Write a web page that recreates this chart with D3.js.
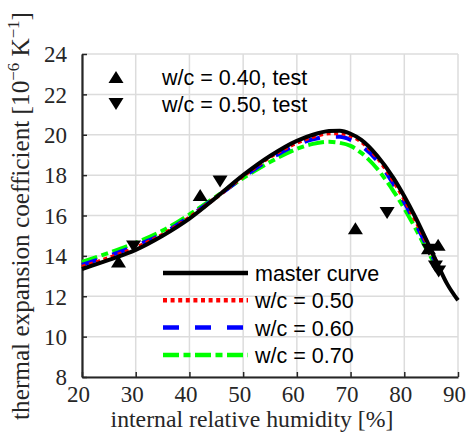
<!DOCTYPE html>
<html><head><meta charset="utf-8">
<script src="https://cdn.jsdelivr.net/npm/d3@7"></script>
<style>body{margin:0;background:#fff}svg{display:block}</style>
</head><body>
<svg id="c" width="466" height="440"></svg>
<script>
// ---- data ----
const xTicks = [20, 30, 40, 50, 60, 70, 80, 90];
const yTicks = [8, 10, 12, 14, 16, 18, 20, 22, 24];
const masterX = [20,25,30,35,40,45,50,55,60,63,66,68,70,72,75,78,80,82,84,86,88,90];
const masterY = [13.35,13.8,14.3,15.0,15.85,16.9,18.0,18.95,19.7,20.0,20.18,20.2,20.05,19.75,18.95,17.85,16.95,15.95,14.85,13.7,12.6,11.8];
const wcX = [20,25,30,35,40,45,50,55,60,63,66,68,70,72,75,78,80,82,84,86];
const wc050 = [13.45,13.9,14.4,15.05,15.9,16.9,17.95,18.9,19.6,19.9,20.07,20.08,19.95,19.65,18.85,17.7,16.8,15.8,14.75,13.7];
const wc060 = [13.55,14.0,14.5,15.1,15.95,16.9,17.9,18.8,19.5,19.78,19.9,19.9,19.75,19.45,18.7,17.55,16.65,15.65,14.6,13.6];
const wc070 = [13.7,14.15,14.65,15.25,16.05,16.95,17.85,18.65,19.3,19.55,19.65,19.6,19.45,19.1,18.3,17.2,16.35,15.4,14.4,13.45];
const test040X = [26.8, 42.0, 70.9, 84.5, 86.3];
const test040Y = [13.72, 17.02, 15.37, 14.38, 14.55];
const test050X = [29.6, 45.7, 76.8, 84.6, 85.8, 86.4];
const test050Y = [14.46, 17.69, 16.12, 14.3, 13.47, 13.22];
const legendTest = ["w/c = 0.40, test", "w/c = 0.50, test"];
const legendLines = ["master curve", "w/c = 0.50", "w/c = 0.60", "w/c = 0.70"];
const xLabel = "internal relative humidity [%]";

// ---- layout ----
const L = 82, R = 458, T = 54, B = 377;
const svg = d3.select("#c");
const x = d3.scaleLinear().domain([20, 90]).range([L, R]);
const y = d3.scaleLinear().domain([8, 24]).range([B, T]);
const serif = "'Liberation Serif', 'DejaVu Serif', serif";
const sans = "'Liberation Sans', Arial, sans-serif";

// grid
const grid = svg.append("g").attr("stroke", "#dcdcdc").attr("stroke-width", 1.5);
xTicks.forEach(v => grid.append("line").attr("x1", x(v)).attr("x2", x(v)).attr("y1", T).attr("y2", B));
yTicks.forEach(v => grid.append("line").attr("x1", L).attr("x2", R).attr("y1", y(v)).attr("y2", y(v)));

// axes
const xAxis = svg.append("g").attr("transform", `translate(0,${B})`)
  .call(d3.axisBottom(x).tickValues(xTicks).tickSize(-5).tickPadding(10).tickSizeOuter(0));
const yAxis = svg.append("g").attr("transform", `translate(${L},0)`)
  .call(d3.axisLeft(y).tickValues(yTicks).tickSize(-5).tickPadding(15).tickSizeOuter(0));
[xAxis, yAxis].forEach(a => {
  a.select(".domain").attr("stroke", "#262626").attr("stroke-width", 2.2);
  a.selectAll(".tick line").attr("stroke", "#262626").attr("stroke-width", 1.5);
  a.selectAll("text").attr("font-family", serif).attr("font-size", 23).attr("fill", "#262626");
});
xAxis.selectAll("text").attr("dy", "0.7em").attr("y", 9).attr("dx", -4);
yAxis.selectAll("text").attr("dy", "0.34em");

// curves
svg.append("clipPath").attr("id", "cl").append("rect")
  .attr("x", L - 3).attr("y", T).attr("width", R - L + 6).attr("height", B - T);
const line = d3.line().curve(d3.curveMonotoneX);
const curves = svg.append("g").attr("clip-path", "url(#cl)").attr("fill", "none");
const styles = [
  {xs: wcX, ys: wc070, color: "#00ff00", dash: "16,4.5,7,4.5", w: 4},
  {xs: wcX, ys: wc060, color: "#0000ff", dash: "16,16", w: 4},
  {xs: wcX, ys: wc050, color: "#ff0000", dash: "4,3.6", w: 4},
  {xs: masterX, ys: masterY, color: "#000000", dash: null, w: 4}
];
styles.forEach(s => {
  curves.append("path")
    .attr("d", line(s.xs.map((v, i) => [x(v), y(s.ys[i])])))
    .attr("stroke", s.color).attr("stroke-width", s.w)
    .attr("stroke-dasharray", s.dash);
});

// markers
const tri = (g, up_, px, py) => {
  const w = 15, h = 12;
  const pts = up_ ? [[px - w/2, py + h/2], [px + w/2, py + h/2], [px, py - h/2]]
                  : [[px - w/2, py - h/2], [px + w/2, py - h/2], [px, py + h/2]];
  g.append("path").attr("d", "M" + pts.join("L") + "Z").attr("fill", "#000");
};
const mk = svg.append("g");
test040X.forEach((v, i) => tri(mk, true, x(v), y(test040Y[i])));
test050X.forEach((v, i) => tri(mk, false, x(v), y(test050Y[i])));

// top legend
const lg1 = svg.append("g");
legendTest.forEach((t, i) => {
  const cy = 77 + i * 27;
  tri(lg1, i === 0, 116, cy);
  lg1.append("text").attr("x", 162).attr("y", cy + 8).attr("font-family", sans)
    .attr("font-size", 21.5).attr("fill", "#000").text(t);
});

// bottom legend
const lg2 = svg.append("g");
const lstyles = [styles[3], styles[2], styles[1], styles[0]];
legendLines.forEach((t, i) => {
  const cy = 273 + i * 27.3;
  lg2.append("line").attr("x1", 163).attr("x2", 248).attr("y1", cy).attr("y2", cy)
    .attr("stroke", lstyles[i].color).attr("stroke-width", 4.5)
    .attr("stroke-dasharray", lstyles[i].dash);
  lg2.append("text").attr("x", 255).attr("y", cy + 8).attr("font-family", sans)
    .attr("font-size", 21.5).attr("fill", "#000").text(t);
});

// axis labels
const fit = (sel, target) => {
  const len = sel.node().getComputedTextLength();
  const fs = parseFloat(sel.attr("font-size"));
  sel.attr("font-size", fs * target / len);
};
const xl = svg.append("text").attr("x", 252).attr("y", 427).attr("text-anchor", "middle")
  .attr("font-family", serif).attr("font-size", 21).attr("fill", "#262626").text(xLabel);
fit(xl, 283);
const yl = svg.append("text").attr("transform", "translate(29,216) rotate(-90)")
  .attr("text-anchor", "middle").attr("font-family", serif).attr("font-size", 21).attr("fill", "#262626");
yl.append("tspan").text("thermal expansion coefficient [10");
yl.append("tspan").attr("dy", -8).attr("font-size", 14).text("\u22126");
yl.append("tspan").attr("dy", 8).text(" K");
yl.append("tspan").attr("dy", -8).attr("font-size", 14).text("\u22121");
yl.append("tspan").attr("dy", 8).text("]");
{
  const len = yl.node().getComputedTextLength();
  const k = 408 / len;
  yl.attr("font-size", 21 * k);
  yl.selectAll("tspan").each(function() {
    const t = d3.select(this);
    if (t.attr("font-size")) t.attr("font-size", 14 * k);
    if (t.attr("dy")) t.attr("dy", +t.attr("dy") * k);
  });
}
</script>
</body></html>
